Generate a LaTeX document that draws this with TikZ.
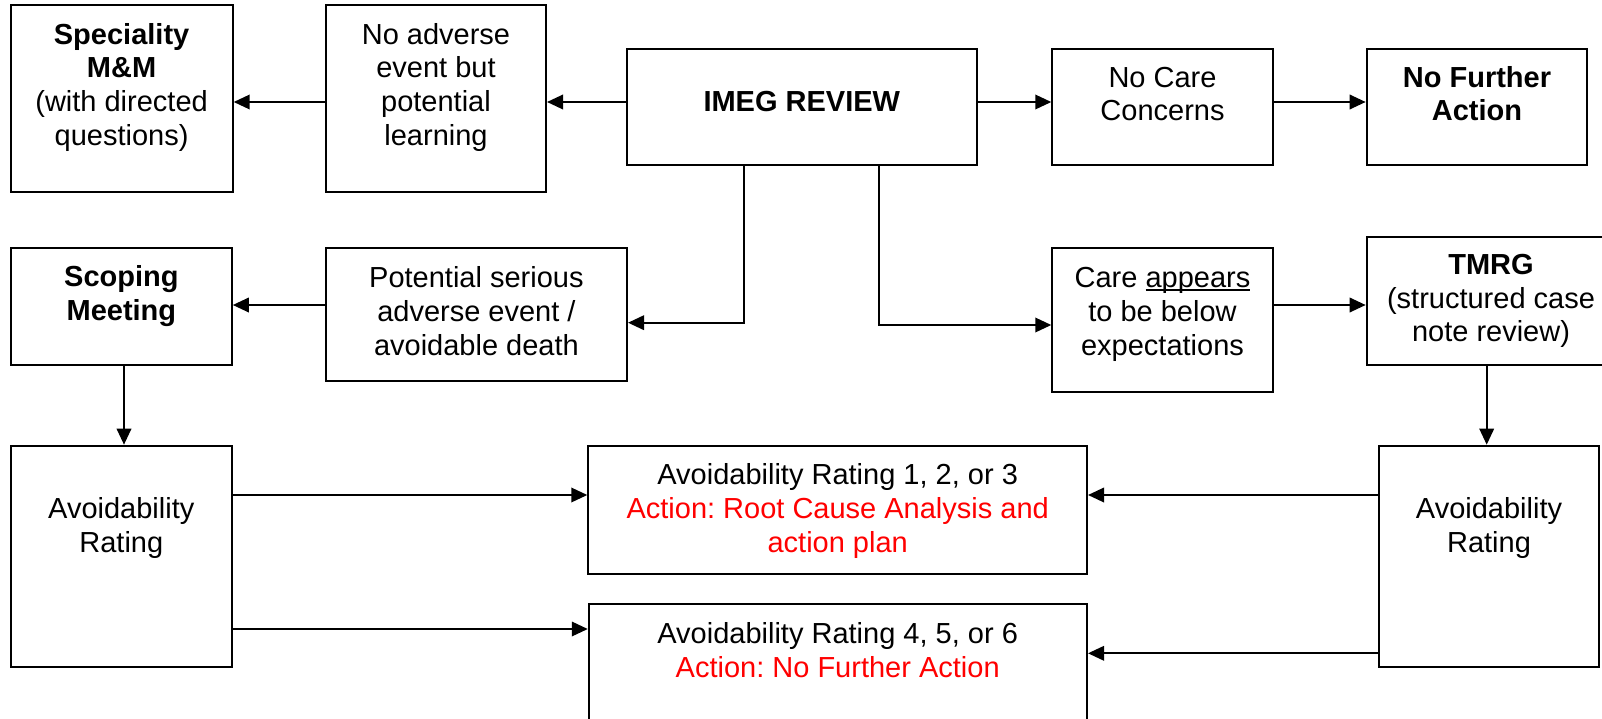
\documentclass[tikz,border=0pt]{standalone}
\usepackage{fontspec}
\setmainfont{Liberation Sans}
\usetikzlibrary{arrows.meta,fit}
\frenchspacing
\newcommand\myul[1]{\setbox0\hbox{#1}\rlap{\rule[-1.7pt]{\wd0}{0.7pt}}\box0}
\begin{document}
\begin{tikzpicture}[x=0.5pt,y=-0.5pt,
  box/.style={draw=black, line width=1pt, inner sep=0pt, fill=none},
  txt/.style={anchor=base, align=center, inner sep=0pt,
    font=\fontsize{14.5}{16.9}\selectfont},
  arr/.style={line width=1.1pt, -{Triangle[length=8pt,width=7.2pt]}}]
\useasboundingbox (0,0) rectangle (1602,718);
\fill[white] (0,0) rectangle (1602,718);
% boxes
\node[box, fit={(10.6,4.7) (232.7,192.3)}] (spec) {};
\node[box, fit={(325.7,4.7) (546,192.3)}] (noadv) {};
\node[box, fit={(626.5,49.3) (977,164.5)}] (imeg) {};
\node[box, fit={(1052.3,49.3) (1272.7,164.5)}] (nocare) {};
\node[box, fit={(1366.7,49.3) (1587.3,164.5)}] (nfa) {};
\node[box, fit={(11,248.3) (231.8,365)}] (scop) {};
\node[box, fit={(325.7,248.3) (627,380.7)}] (pot) {};
\node[box, fit={(1052.3,248.3) (1272.7,391.7)}] (care) {};
\node[box, fit={(1366.7,237.3) (1613,365)}] (tmrg) {};
\node[box, fit={(11,445.7) (231.7,666.7)}] (lar) {};
\node[box, fit={(588.3,445.7) (1087,574)}] (mtop) {};
\node[box, fit={(588.8,604) (1087,745)}] (mbot) {};
\node[box, fit={(1379,445.7) (1599,666.7)}] (rar) {};
% texts (anchor = baseline of the last line)
\node[txt] (tspec) at (121.6,145.5) {\textbf{Speciality}\\\textbf{M\&M}\\(with directed\\questions)};
\node[txt] (tnoadv) at (436,145.5) {No adverse\\event but\\potential\\learning};
\node[txt] (timeg) at (801.8,111) {\textbf{IMEG REVIEW}};
\node[txt] (tnocare) at (1162.5,120.8) {No Care\\Concerns};
\node[txt] (tnfa) at (1477,120.8) {\textbf{No Further}\\\textbf{Action}};
\node[txt] (tscop) at (121.4,320) {\textbf{Scoping}\\\textbf{Meeting}};
\node[txt] (tpot) at (476.4,355) {Potential serious\\adverse event /\\avoidable death};
\node[txt] (tcare) at (1162.5,355) {Care \myul{appears}\\to be below\\expectations};
\node[txt] (ttmrg) at (1491,341.9) {\textbf{TMRG}\\(structured case\\note review)};
\node[txt] (tlar) at (121.3,552) {Avoidability\\Rating};
\node[txt] (tmtop) at (837.7,552.5) {Avoidability Rating 1, 2, or 3\\\textcolor{red}{Action: Root Cause Analysis and}\\\textcolor{red}{action plan}};
\node[txt] (tmbot) at (837.7,677) {Avoidability Rating 4, 5, or 6\\\textcolor{red}{Action: No Further Action}};
\node[txt] (trar) at (1489,552) {Avoidability\\Rating};
% connectors
\draw[arr] (noadv.west |- 0,102) -- (spec.east |- 0,102);
\draw[arr] (imeg.west |- 0,102) -- (noadv.east |- 0,102);
\draw[arr] (imeg.east |- 0,102) -- (nocare.west |- 0,102);
\draw[arr] (nocare.east |- 0,102) -- (nfa.west |- 0,102);
\draw[arr] (743.7,0 |- imeg.south) |- (pot.east |- 0,322.7);
\draw[arr] (879.3,0 |- imeg.south) |- (care.west |- 0,325);
\draw[arr] (pot.west |- 0,305) -- (scop.east |- 0,305);
\draw[arr] (care.east |- 0,305) -- (tmrg.west |- 0,305);
\draw[arr] (124,0 |- scop.south) -- (124,0 |- lar.north);
\draw[arr] (1486.7,0 |- tmrg.south) -- (1486.7,0 |- rar.north);
\draw[arr] (lar.east |- 0,495) -- (mtop.west |- 0,495);
\draw[arr] (lar.east |- 0,629) -- (mbot.west |- 0,629);
\draw[arr] (rar.west |- 0,495) -- (mtop.east |- 0,495);
\draw[arr] (rar.west |- 0,653.3) -- (mbot.east |- 0,653.3);
\end{tikzpicture}
\end{document}
